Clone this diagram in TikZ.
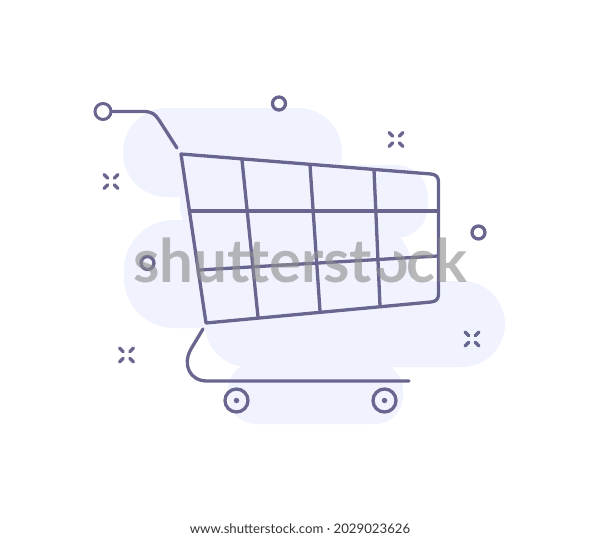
\documentclass[tikz,border=0pt]{standalone}
\usepackage{fontspec}
\setmainfont{Lato}
\definecolor{blob}{HTML}{F0F3FE}
\definecolor{ink}{HTML}{68658F}
\definecolor{wm}{HTML}{8E8E8E}
\tikzset{x=1pt,y=-1pt,
  blobfill/.style={fill=blob,draw=none},
  cartline/.style={draw=ink,line width=3.3pt,line cap=round,line join=round},
  ringmark/.style={circle,draw=ink,line width=3.3pt,fill=none,inner sep=0pt,minimum size=13pt},
  wheelmark/.style={circle,draw=ink,line width=3.3pt,fill=none,inner sep=0pt,minimum size=23pt},
  hubmark/.style={circle,fill=ink,inner sep=0pt,minimum size=5.5pt},
  handlering/.style={circle,draw=ink,line width=3pt,fill=white,inner sep=0pt,minimum size=16pt},
  sparkline/.style={draw=ink,line width=3.2pt,line cap=round},
  wmtext/.style={text=wm,opacity=.62,font=\fontsize{60}{60}\selectfont\bfseries,inner sep=0pt,anchor=base west},
  pics/spark/.style={code={
    \draw[sparkline] (-7,-7) -- (-3.2,-3.2) (7,-7) -- (3.2,-3.2) (-7,7) -- (-3.2,3.2) (7,7) -- (3.2,3.2);}}
}
\begin{document}
\begin{tikzpicture}
\useasboundingbox (0,0) rectangle (600,538);
% background blobs
\fill[blobfill,rounded corners=44pt] (123,108) rectangle (342,197);
\fill[blobfill,rounded corners=32pt] (180,165) rectangle (428,238);
\fill[blobfill,rounded corners=50pt] (124,220) rectangle (412,328);
\fill[blobfill,rounded corners=43pt] (205,281) rectangle (505,367);
\fill[blobfill,rounded corners=28pt] (228,362) rectangle (403,424);
% handle
\node[handlering] (hr) at (103,111.5) {};
\coordinate (h1) at (177,148);
\draw[cartline] (hr.east) -- (143,111.5) .. controls (152,111.5) and (155,114) .. (159,120) -- (h1);
% basket
\coordinate (tl) at (181,154);
\coordinate (bl) at (206,323);
\draw[cartline] (tl) -- (431,174) .. controls (436,174.5) and (438.5,177) .. (438.5,182)
  -- (438.5,294) .. controls (438.5,299) and (436,301.5) .. (431,302) -- (bl) -- cycle;
\draw[cartline] (242,160) -- (258,317);
\draw[cartline] (310,165) -- (320,311);
\draw[cartline] (374,170) -- (380,306);
\draw[cartline] (190,211) -- (438,211);
\draw[cartline] (199,270) -- (438,256);
% undercarriage
\coordinate (u1) at (203,329);
\coordinate (u2) at (409,381);
\draw[cartline] (u1) -- (191,349) .. controls (182,365) and (190,381) .. (207,381) -- (u2);
\node[wheelmark] (w1) at (236.5,400.5) {};
\node[hubmark] at (w1.center) {};
\node[wheelmark] (w2) at (384.5,400.5) {};
\node[hubmark] at (w2.center) {};
% rings
\node[ringmark] (r1) at (279,103.5) {};
\node[ringmark] (r2) at (478.5,232.5) {};
\node[ringmark] (r3) at (147.5,263) {};
% sparks
\pic at (111,181.5) {spark};
\pic at (396,139.5) {spark};
\pic at (126.5,355) {spark};
\pic at (472,339) {spark};
% watermark
\node[wmtext] (wma) at (133,282) {shutterst};
\begin{scope}
\clip (372,268) -- (394,268) -- (394,250) -- (410,250) -- (410,292) -- (372,292) -- cycle;
\node[wmtext] (wmb) at (374,282) {o};
\end{scope}
\node[wmtext] (wmc) at (406,282) {ck};
% footer
\node[text=black!80,font=\fontsize{13.2}{15}\selectfont,inner sep=0pt,anchor=base] (ft) at (300,533) {www.shutterstock.com · 2029023626};
\end{tikzpicture}
\end{document}
